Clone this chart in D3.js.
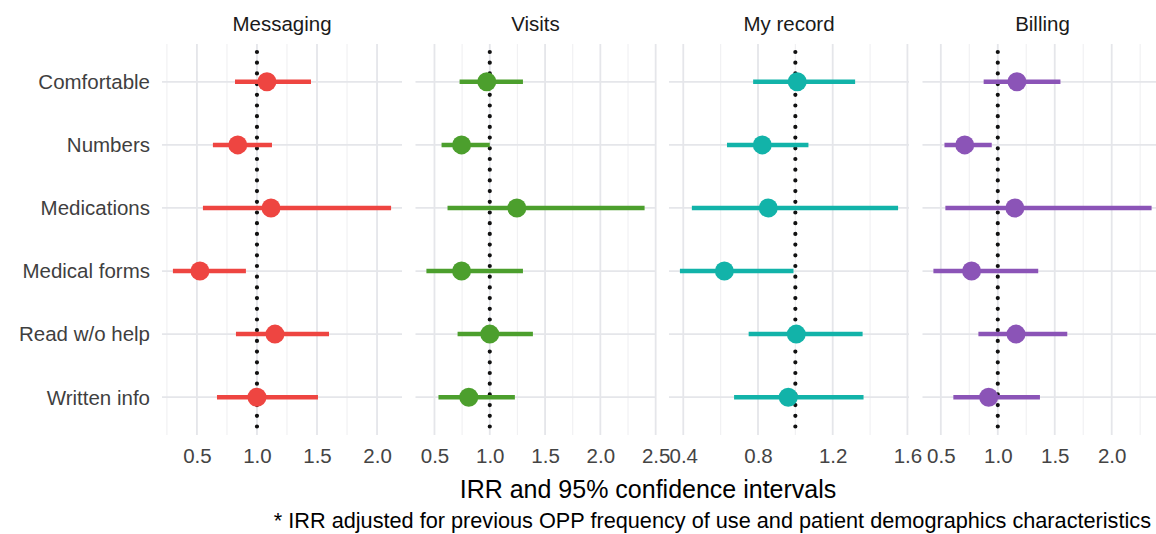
<!DOCTYPE html>
<html>
<head>
<meta charset="utf-8">
<script src="https://cdn.jsdelivr.net/npm/d3@7"></script>
<style>
  html, body { margin: 0; padding: 0; background: #ffffff; }
  svg { display: block; font-family: "Liberation Sans", Arial, Helvetica, sans-serif; }
</style>
</head>
<body>
<svg id="chart" width="1156" height="534"></svg>
<script>
// Survey items (rows, top to bottom)
const items = ["Comfortable", "Numbers", "Medications", "Medical forms", "Read w/o help", "Written info"];

// Portal functions (facets)
const functions = ["Messaging", "Visits", "My record", "Billing"];
const colors = ["#ee4541", "#4c9f2d", "#12b3a9", "#8b54b7"];

// Incidence rate ratios and 95% CI bounds, one array per facet, in item order
const messagingIRR   = [1.083, 0.84, 1.117, 0.525, 1.15, 1.0];
const messagingLower = [0.817, 0.633, 0.55, 0.30, 0.825, 0.667];
const messagingUpper = [1.45, 1.125, 2.117, 0.908, 1.6, 1.508];

const visitsIRR   = [0.973, 0.745, 1.245, 0.745, 1.0, 0.81];
const visitsLower = [0.727, 0.564, 0.618, 0.427, 0.709, 0.536];
const visitsUpper = [1.30, 1.0, 2.40, 1.30, 1.39, 1.227];

const recordIRR   = [1.01, 0.823, 0.855, 0.62, 1.005, 0.962];
const recordLower = [0.774, 0.634, 0.446, 0.382, 0.75, 0.672];
const recordUpper = [1.32, 1.07, 1.55, 0.99, 1.36, 1.365];

const billingIRR   = [1.168, 0.71, 1.15, 0.77, 1.16, 0.92];
const billingLower = [0.876, 0.532, 0.54, 0.435, 0.83, 0.61];
const billingUpper = [1.55, 0.947, 2.35, 1.355, 1.61, 1.37];

// x-axis tick labels per facet
const messagingTicks = [0.5, 1.0, 1.5, 2.0];
const visitsTicks    = [0.5, 1.0, 1.5, 2.0, 2.5];
const recordTicks    = [0.4, 0.8, 1.2, 1.6];
const billingTicks   = [0.5, 1.0, 1.5, 2.0];

const xTitle = "IRR and 95% confidence intervals";
const caption = "* IRR adjusted for previous OPP frequency of use and patient demographics characteristics";

const panels = [
  { est: messagingIRR, lo: messagingLower, hi: messagingUpper, ticks: messagingTicks },
  { est: visitsIRR,    lo: visitsLower,    hi: visitsUpper,    ticks: visitsTicks },
  { est: recordIRR,    lo: recordLower,    hi: recordUpper,    ticks: recordTicks },
  { est: billingIRR,   lo: billingLower,   hi: billingUpper,   ticks: billingTicks }
];

// Layout
const svg = d3.select("#chart");
const panelTop = 44, panelBottom = 435;
const firstLeft = 162, panelW = 240, panelGap = 13.5;

const y = d3.scalePoint().domain(items).range([panelTop, panelBottom]).padding(0.6);

// Row labels
svg.append("g").selectAll("text").data(items).join("text")
  .attr("x", 150).attr("y", d => y(d))
  .attr("dy", "0.36em")
  .attr("text-anchor", "end")
  .attr("font-size", 20.5)
  .attr("fill", "#3f3f3f")
  .text(d => d);

panels.forEach((p, i) => {
  const left = firstLeft + i * (panelW + panelGap);
  const lo = d3.min(p.lo), hi = d3.max(p.hi);
  const pad = (hi - lo) * 0.05;
  const x = d3.scaleLinear().domain([lo - pad, hi + pad]).range([left, left + panelW]);
  const g = svg.append("g");

  // Minor grid: midpoints between major ticks, extended one step either side
  const step = p.ticks[1] - p.ticks[0];
  const minor = d3.range(p.ticks[0] - step / 2, p.ticks[p.ticks.length - 1] + step, step)
    .filter(v => v >= x.domain()[0] && v <= x.domain()[1]);
  g.selectAll(".minor").data(minor).join("line")
    .attr("x1", d => x(d)).attr("x2", d => x(d))
    .attr("y1", panelTop).attr("y2", panelBottom)
    .attr("stroke", "#f1f1f3").attr("stroke-width", 1.2);

  // Major grid
  g.selectAll(".majorx").data(p.ticks).join("line")
    .attr("x1", d => x(d)).attr("x2", d => x(d))
    .attr("y1", panelTop).attr("y2", panelBottom)
    .attr("stroke", "#e5e6ea").attr("stroke-width", 1.8);
  g.selectAll(".majory").data(items).join("line")
    .attr("x1", left).attr("x2", left + panelW)
    .attr("y1", d => y(d)).attr("y2", d => y(d))
    .attr("stroke", "#e5e6ea").attr("stroke-width", 1.8);

  // Reference line at IRR = 1
  g.append("line")
    .attr("x1", x(1)).attr("x2", x(1))
    .attr("y1", panelTop + 8).attr("y2", panelBottom)
    .attr("stroke", "#111").attr("stroke-width", 4.2)
    .attr("stroke-linecap", "round")
    .attr("stroke-dasharray", "0 10.7");

  // Confidence intervals
  g.selectAll(".ci").data(items).join("line")
    .attr("x1", (d, k) => x(p.lo[k])).attr("x2", (d, k) => x(p.hi[k]))
    .attr("y1", d => y(d)).attr("y2", d => y(d))
    .attr("stroke", colors[i]).attr("stroke-width", 4.5);

  // Point estimates
  g.selectAll(".pt").data(items).join("circle")
    .attr("cx", (d, k) => x(p.est[k])).attr("cy", d => y(d))
    .attr("r", 9.5).attr("fill", colors[i]);

  // Facet strip title
  g.append("text")
    .attr("x", left + panelW / 2).attr("y", 31)
    .attr("text-anchor", "middle")
    .attr("font-size", 20.5).attr("fill", "#1a1a1a")
    .text(functions[i]);

  // x-axis tick labels
  const axis = d3.axisBottom(x).tickValues(p.ticks).tickFormat(d3.format(".1f")).tickSize(0).tickPadding(0);
  const ax = g.append("g").attr("transform", `translate(0,${panelBottom + 13})`).call(axis);
  ax.select(".domain").remove();
  ax.selectAll("text").attr("font-size", 20.5).attr("fill", "#444")
    .attr("font-family", "Liberation Sans, Arial, sans-serif");
});

// Axis title
svg.append("text")
  .attr("x", 648).attr("y", 498)
  .attr("text-anchor", "middle")
  .attr("font-size", 25).attr("fill", "#000")
  .text(xTitle);

// Caption
svg.append("text")
  .attr("x", 1151).attr("y", 528)
  .attr("text-anchor", "end")
  .attr("font-size", 21.7).attr("fill", "#000")
  .text(caption);
</script>
</body>
</html>
